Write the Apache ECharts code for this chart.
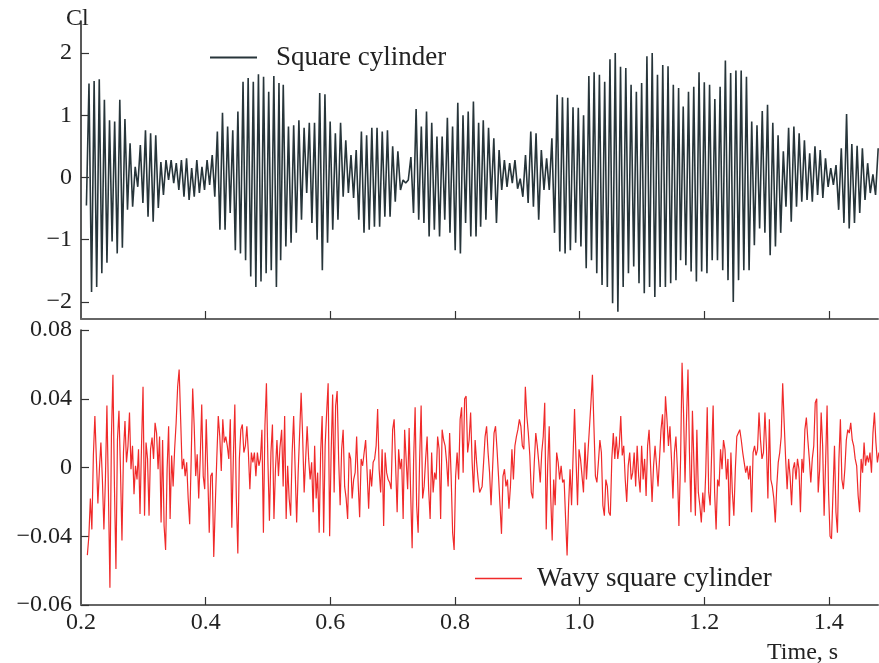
<!DOCTYPE html>
<html>
<head>
<meta charset="utf-8">
<script src="https://cdn.jsdelivr.net/npm/echarts@6/dist/echarts.min.js"></script>
<style>
html,body{margin:0;padding:0;background:#fff;}
#chart{width:879px;height:663px;}
</style>
</head>
<body>
<div id="chart"></div>
<script>
// ---- data ----
// Top panel (Square cylinder): successive extremes, four stretches of time
const topSpans = [[0.2087, 0.5177], [0.5204, 0.8381], [0.8413, 1.1590], [1.1622, 1.4793]];
const topSeg1 = [-0.45, 1.51, -1.84, 1.55, -1.76, 1.58, -1.54, 1.25, -1.37, 0.92, -1.03, 0.9, -1.22, 1.25, -1.13, 0.94, -0.52, 0.55, -0.47, 0.17, -0.15, 0.52, -0.41, 0.76, -0.63, 0.71, -0.71, 0.68, -0.49, 0.25, -0.28, 0.28, -0.04, 0.28, -0.09, 0.23, -0.2, 0.28, -0.31, 0.31, -0.36, 0.15, -0.31, 0.28, -0.25, 0.17, -0.2, 0.28, -0.12, 0.36, -0.31, 0.74, -0.84, 1.04, -0.84, 0.82, -0.57, 0.76, -1.17, 1.06, -1.22, 1.54, -1.33, 1.6, -1.59, 1.54, -1.76, 1.66, -1.67, 1.62, -1.54, 1.38, -1.49, 1.63, -1.76, 1.52];
const topSeg2 = [-1.33, 1.49, -1.11, 0.82, -1.05, 0.84, -0.89, 0.92, -0.68, 0.8, -0.25, 0.88, -0.73, 0.88, -1.0, 1.36, -1.49, 1.34, -1.05, 0.9, -0.84, 0.71, -0.68, 0.88, -0.31, 0.6, -0.25, 0.36, -0.33, 0.44, -0.68, 0.74, -0.89, 0.68, -0.84, 0.8, -0.79, 0.8, -0.79, 0.74, -0.63, 0.76, -0.63, 0.5, -0.39, 0.42, -0.2, -0.04, -0.09, -0.04, 0.33, -0.57, 1.1, -0.68, 0.82, -0.73, 1.06, -0.95, 0.88, -0.84, 0.66, -0.95, 0.66, -0.68, 0.96, -0.89, 0.82, -1.17, 1.2, -1.22, 1.0, -0.73, 1.06, -0.95, 1.22, -0.95, 0.88];
const topSeg3 = [-0.79, 0.92, -0.68, 0.8, -0.36, 0.63, -0.73, 0.44, -0.2, 0.28, -0.15, 0.23, -0.09, 0.28, -0.18, -0.02, -0.31, 0.36, -0.41, 0.74, -0.47, 0.71, -0.68, 0.44, -0.2, 0.31, -0.2, 0.63, -0.89, 1.33, -1.19, 1.29, -1.22, 1.28, -1.17, 1.13, -1.05, 1.12, -1.11, 1.0, -1.46, 1.63, -1.33, 1.69, -1.54, 1.65, -1.73, 1.54, -1.76, 1.9, -2.02, 2.0, -2.16, 1.78, -1.76, 1.76, -1.54, 1.49, -1.43, 1.38, -1.7, 1.52, -1.86, 1.95, -1.76, 2.0, -1.92, 1.65, -1.76, 1.81, -1.76, 1.79, -1.7, 1.49, -1.65, 1.44];
const topSeg4 = [-1.33, 1.14, -1.41, 1.38, -1.51, 1.46, -1.67, 1.69, -1.51, 1.53, -1.54, 1.49, -1.33, 1.26, -1.33, 1.46, -1.49, 1.88, -1.65, 1.68, -2.0, 1.72, -1.65, 1.72, -1.49, 1.62, -1.49, 0.9, -1.09, 0.84, -0.82, 1.07, -0.89, 1.17, -1.25, 0.88, -1.11, 0.68, -0.89, 0.42, -0.47, 0.8, -0.71, 0.82, -0.47, 0.71, -0.39, 0.6, -0.36, 0.39, -0.39, 0.5, -0.28, 0.44, -0.33, 0.31, -0.15, 0.15, -0.12, 0.2, -0.52, 0.47, -0.73, 1.02, -0.82, 0.54, -0.73, 0.51, -0.57, 0.47, -0.36, 0.23, -0.25, 0.05, -0.28, 0.47];

// Bottom panel (Wavy square cylinder): samples, four stretches of time
const botSpans = [[0.2102, 0.5193], [0.5220, 0.8397], [0.8413, 1.1595], [1.1622, 1.4804]];
const botSeg1 = [-0.051, -0.04, -0.018, -0.036, 0.007, 0.03, 0.005, -0.021, -0.001, 0.0145, -0.007, -0.036, -0.007, 0.036, -0.0145, -0.07, 0.018, 0.054, -0.011, -0.059, 0.016, 0.033, -0.001, -0.0425, 0.0087, 0.027, 0.003, 0.0126, 0.032, -0.001, 0.0126, -0.0155, 0.001, -0.007, 0.0106, -0.027, 0.0126, 0.047, -0.028, 0.0145, 0.005, -0.028, 0.0106, 0.0174, 0.005, 0.026, 0.02, -0.001, 0.018, -0.032, 0.016, -0.034, -0.048, -0.001, 0.024, -0.03, 0.007, -0.011, 0.0106, 0.026, 0.047, 0.057, 0.028, -0.001, 0.005, -0.005, 0.003, -0.018, -0.033, 0.005, 0.046, 0.024, -0.005, 0.0077, -0.018, 0.005, 0.0367, -0.005, -0.0126, 0.028, -0.003, -0.038, -0.005, -0.003, -0.052, -0.022, 0.005, 0.03, 0.018, -0.002, 0.028, 0.0145, 0.018, 0.0126, 0.005, 0.028, -0.035, 0.005, 0.0367, -0.018, -0.05, 0.005, 0.022, 0.025, 0.0087, 0.0126, 0.024, 0.0087, -0.0126, 0.0087, 0.003, 0.0087, -0.005, 0.0087, 0.001, 0.005, 0.022, -0.038, 0.024, 0.049, 0.003, -0.031, 0.0087, 0.025, -0.03, -0.001, 0.016, -0.005, 0.0116];
const botSeg2 = [0.022, -0.011, 0.03, -0.03, 0.001, -0.018, -0.028, 0.0087, 0.03, -0.001, -0.032, -0.003, 0.02, 0.0435, 0.018, -0.0145, 0.005, 0.024, 0.005, -0.007, 0.003, -0.026, 0.0126, -0.018, -0.003, -0.038, 0.0087, 0.03, -0.038, 0.0126, 0.032, 0.049, -0.04, 0.0087, 0.0425, -0.0145, 0.036, 0.0445, 0.005, -0.022, 0.0106, 0.022, -0.011, -0.018, -0.03, 0.0087, 0.005, -0.018, -0.007, -0.003, 0.018, -0.0087, -0.029, 0.005, 0.001, 0.0087, 0.016, -0.003, -0.024, -0.001, -0.011, 0.003, 0.005, 0.0126, 0.034, -0.001, -0.0145, 0.0106, -0.034, 0.0087, -0.003, -0.007, -0.0087, -0.0126, 0.022, 0.028, 0.001, -0.026, 0.0106, -0.001, 0.005, -0.03, 0.022, 0.005, -0.0126, 0.023, -0.0145, -0.047, 0.005, 0.035, -0.022, -0.038, 0.005, 0.036, -0.018, -0.011, 0.005, 0.018, -0.0126, -0.03, 0.0087, -0.0145, -0.003, -0.007, 0.018, 0.0106, -0.03, 0.022, 0.016, 0.0126, 0.003, -0.011, 0.02, -0.005, -0.038, -0.048, -0.005, 0.0087, -0.007, 0.028, 0.035, -0.003, 0.04, 0.0415, 0.0087, 0.016, 0.032, 0.003, -0.0145, 0.016, 0.003, -0.007, -0.0145];
const botSeg3 = [-0.0145, -0.011, 0.003, 0.018, 0.024, 0.0087, -0.003, -0.022, -0.001, 0.02, 0.024, 0.0106, -0.005, -0.022, -0.0386, -0.005, -0.001, -0.011, -0.007, -0.024, -0.011, 0.0106, -0.007, 0.0126, 0.018, 0.022, 0.028, 0.024, 0.0126, 0.0106, 0.047, 0.03, 0.02, 0.007, -0.0145, -0.018, 0.003, 0.02, 0.0126, 0.003, -0.0087, 0.0087, 0.018, 0.0377, -0.036, 0.001, 0.024, -0.0165, -0.0425, -0.007, -0.022, 0.0087, 0.003, -0.007, 0.001, -0.0087, -0.007, -0.03, -0.0512, -0.022, -0.001, -0.022, -0.022, 0.034, 0.005, -0.022, 0.0106, 0.005, 0.005, -0.0145, 0.0145, -0.007, 0.0087, 0.0087, 0.0377, 0.054, 0.024, -0.005, -0.0087, 0.003, 0.016, 0.0087, -0.022, -0.028, -0.007, -0.011, -0.026, -0.028, 0.005, 0.02, 0.005, 0.018, 0.005, 0.0126, 0.03, 0.007, 0.0126, -0.007, -0.02, 0.001, 0.0087, -0.007, -0.003, 0.0087, -0.011, 0.0126, -0.005, -0.0145, 0.0126, -0.007, 0.005, -0.0165, 0.0126, 0.022, 0.001, -0.02, 0.001, 0.0126, 0.001, -0.011, 0.005, 0.022, 0.031, 0.0087, 0.0415, 0.028, 0.0126, 0.024, 0.005, -0.018, 0.0087, 0.018, -0.001, -0.034];
const botSeg4 = [0.005, 0.061, 0.032, -0.0087, 0.028, 0.057, 0.0087, -0.026, 0.033, 0.003, -0.028, 0.022, -0.0145, -0.022, -0.032, -0.0145, -0.026, -0.003, 0.035, -0.0145, -0.022, 0.0087, 0.036, -0.0145, -0.036, -0.007, -0.011, 0.0106, -0.001, 0.016, 0.0106, -0.007, 0.005, -0.034, 0.0087, -0.0145, -0.028, -0.001, 0.018, 0.019, 0.022, 0.016, 0.0087, 0.0087, -0.003, 0.001, -0.007, 0.001, -0.026, 0.0087, 0.0126, 0.007, 0.0106, 0.032, 0.016, 0.005, 0.0087, 0.032, 0.0126, -0.018, 0.028, -0.007, -0.011, -0.018, -0.032, -0.011, 0.003, 0.0087, 0.018, 0.049, 0.026, 0.005, -0.0126, 0.005, -0.005, -0.022, -0.001, 0.003, -0.007, 0.005, -0.001, -0.026, 0.005, -0.003, 0.022, 0.029, 0.016, 0.005, -0.0087, 0.005, 0.0126, 0.0377, 0.04, -0.0145, -0.001, 0.032, 0.0126, -0.028, 0.003, 0.036, -0.0145, -0.04, -0.0415, -0.0145, 0.0126, -0.026, -0.038, 0.005, 0.028, -0.007, -0.0126, -0.001, 0.016, 0.022, 0.02, 0.026, 0.016, 0.0126, 0.005, 0.001, -0.0165, -0.026, 0.005, -0.003, 0.0145, 0.001, 0.007, 0.003, 0.0087, -0.003, 0.02, 0.032, 0.0145, 0.003, 0.0087];

// tick labels
const xTickValues = [0.2, 0.4, 0.6, 0.8, 1.0, 1.2, 1.4];
const topYTicks = [-2, -1, 0, 1, 2];
const botYTicks = [-0.08, -0.04, 0, 0.04, 0.08];
const botYLabels = ['\u22120.06', '\u22120.04', '0', '0.04', '0.08'];
const seriesNames = ['Square cylinder', 'Wavy square cylinder'];

// ---- build sampled series (uniform time steps inside each stretch) ----
function buildSeries(segs, spans) {
  const out = [];
  segs.forEach(function (vals, k) {
    const a = spans[k][0], b = spans[k][1], n = vals.length;
    vals.forEach(function (v, i) { out.push([a + (b - a) * i / (n - 1), v]); });
  });
  return out;
}
const topData = buildSeries([topSeg1, topSeg2, topSeg3, topSeg4], topSpans);
const botData = buildSeries([botSeg1, botSeg2, botSeg3, botSeg4], botSpans);

const FONT = "'Liberation Serif', 'DejaVu Serif', serif";
const TXT = '#222';
const TOP_COLOR = '#27353a';
const BOT_COLOR = '#f02a2a';
function minus(v) { return v < 0 ? '\u2212' + String(Math.abs(v)) : String(v); }

const chart = echarts.init(document.getElementById('chart'), null, {renderer: 'canvas'});
chart.setOption({
  animation: false,
  backgroundColor: '#fff',
  title: [
    {text: 'Cl', left: 61, top: 2, textStyle: {fontFamily: FONT, fontSize: 24, fontWeight: 'normal', color: TXT}},
    {text: 'Time, s', left: 762, top: 636, textStyle: {fontFamily: FONT, fontSize: 24, fontWeight: 'normal', color: TXT}}
  ],
  legend: [
    {data: [seriesNames[0]], left: 205, top: 39, icon: 'rect', itemWidth: 47, itemHeight: 2, selectedMode: false,
     itemStyle: {color: TOP_COLOR},
     textStyle: {fontFamily: FONT, fontSize: 27, color: TXT, padding: [0, 0, 0, 14]}},
    {data: [seriesNames[1]], left: 470, top: 560, icon: 'rect', itemWidth: 47, itemHeight: 1.5, selectedMode: false,
     itemStyle: {color: BOT_COLOR},
     textStyle: {fontFamily: FONT, fontSize: 27, color: TXT, padding: [0, 0, 0, 10]}}
  ],
  grid: [
    {left: 81, top: 21, width: 797, height: 298},
    {left: 81, top: 330, width: 797, height: 275}
  ],
  xAxis: [
    {gridIndex: 0, type: 'value', min: 0.2, max: 1.479,
     axisLine: {show: true, onZero: false, lineStyle: {color: '#666', width: 2}},
     axisTick: {show: true, inside: true, length: 8, customValues: xTickValues.slice(1), lineStyle: {color: '#333', width: 1.2}},
     axisLabel: {show: false}, splitLine: {show: false}},
    {gridIndex: 1, type: 'value', min: 0.2, max: 1.479,
     axisLine: {show: true, onZero: false, lineStyle: {color: '#666', width: 2}},
     axisTick: {show: true, inside: true, length: 8, customValues: xTickValues.slice(1), lineStyle: {color: '#333', width: 1.2}},
     axisLabel: {show: true, customValues: xTickValues, margin: 6, fontFamily: FONT, fontSize: 24, color: TXT,
                 formatter: function (v) { return v.toFixed(1); }},
     splitLine: {show: false}}
  ],
  yAxis: [
    {gridIndex: 0, type: 'value', min: -2.275, max: 2.516,
     axisLine: {show: true, onZero: false, lineStyle: {color: '#222', width: 1.5}},
     axisTick: {show: true, inside: true, length: 8, customValues: topYTicks, lineStyle: {color: '#333', width: 1.2}},
     axisLabel: {show: true, customValues: topYTicks, margin: 9, fontFamily: FONT, fontSize: 24, color: TXT,
                 formatter: function (v) { return minus(v); }},
     splitLine: {show: false}},
    {gridIndex: 1, type: 'value', min: -0.08, max: 0.08, interval: 0.04,
     axisLine: {show: true, onZero: false, lineStyle: {color: '#222', width: 1.5}},
     axisTick: {show: true, inside: true, length: 8, lineStyle: {color: '#333', width: 1.2}},
     axisLabel: {show: true, margin: 9, fontFamily: FONT, fontSize: 24, color: TXT,
                 formatter: function (v) {
                   let best = 0;
                   botYTicks.forEach(function (t, i) { if (Math.abs(t - v) < Math.abs(botYTicks[best] - v)) best = i; });
                   return botYLabels[best];
                 }},
     splitLine: {show: false}}
  ],
  series: [
    {name: seriesNames[0], type: 'line', xAxisIndex: 0, yAxisIndex: 0, data: topData,
     symbol: 'none', showSymbol: false, lineStyle: {color: TOP_COLOR, width: 1.6}, itemStyle: {color: TOP_COLOR},
     emphasis: {disabled: true}},
    {name: seriesNames[1], type: 'line', xAxisIndex: 1, yAxisIndex: 1, data: botData,
     symbol: 'none', showSymbol: false, lineStyle: {color: BOT_COLOR, width: 1.2}, itemStyle: {color: BOT_COLOR},
     emphasis: {disabled: true}}
  ]
});
</script>
</body>
</html>
